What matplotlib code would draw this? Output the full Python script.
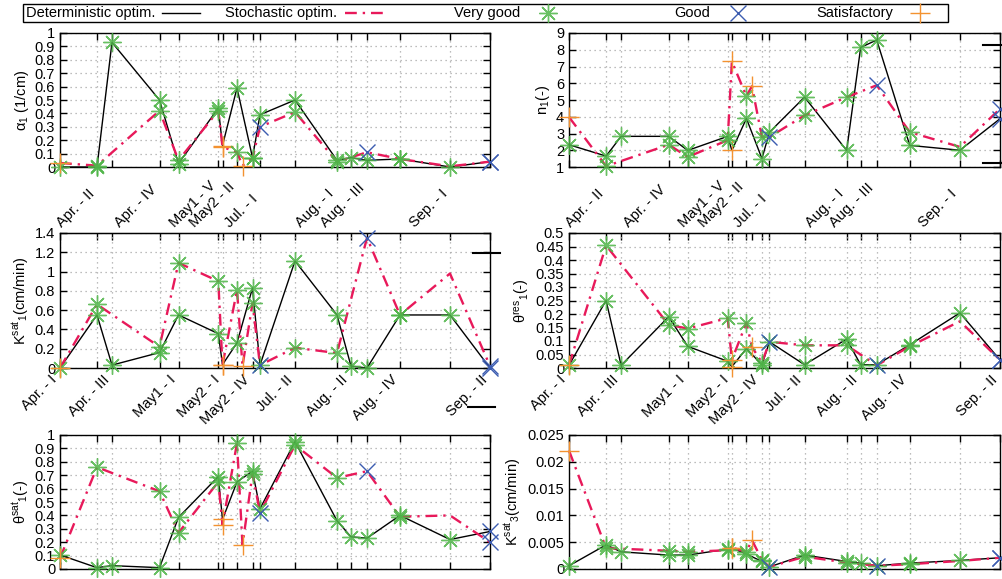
import matplotlib
matplotlib.use('Agg')
import matplotlib.pyplot as plt
from matplotlib.lines import Line2D
from matplotlib.patches import Rectangle
from matplotlib.ticker import FuncFormatter, MultipleLocator

plt.rcParams['font.family'] = ['Liberation Sans', 'DejaVu Sans']
plt.rcParams['mathtext.fontset'] = 'custom'
plt.rcParams['mathtext.rm'] = 'Liberation Sans'
plt.rcParams['mathtext.it'] = 'Liberation Sans:italic'
plt.rcParams['mathtext.bf'] = 'Liberation Sans:bold'
plt.rcParams['font.size'] = 10

# ---------------- data ----------------
event_labels = ["Apr. - I", "Apr. - II", "Apr. - III", "Apr. - IV", "May1 - I", "May1 - V",
                "May2 - I", "May2 - II", "May2 - III", "May2 - IV", "Jul. - I", "Jul. - II",
                "Aug. - I", "Aug. - II", "Aug. - III", "Aug. - IV", "Sep. - I", "Sep. - II"]
event_pos = [0, 37, 52, 99.5, 118.5, 158.3, 162.5, 177, 182.5, 192.5, 200, 235,
             277, 291, 307, 340, 390, 430]
bottom_label_idx = [0, 2, 4, 6, 9, 11, 13, 15, 17]
top_label_idx = [1, 3, 5, 7, 10, 12, 14, 16]

# quality of each event: V = very good, G = good, S = satisfactory, '' = none
det_quality = ['V', 'V', 'V', 'V', 'V', 'V', 'S', 'V', '', 'V', 'V', 'V', 'V', 'V', 'V', 'V', 'V', 'G']
sto_quality = ['S', 'V', '', 'V', 'V', 'V', 'S', 'V', 'S', 'V', 'G', 'V', 'V', '', 'G', 'V', '', 'G']

alpha1_det = [0.0, 0.0, 0.93, 0.50, 0.025, 0.44, 0.16, 0.59, None, 0.07, 0.39, 0.50, 0.05, 0.07, 0.05, 0.06, 0.0, 0.04]
alpha1_sto = [0.03, 0.01, None, 0.42, 0.05, 0.42, 0.15, 0.11, 0.01, 0.065, 0.30, 0.41, 0.04, None, 0.11, 0.06, 0.005, 0.04]

n1_det = [2.33, 1.65, 2.83, 2.83, 1.99, 2.83, 1.99, 3.9, None, 1.5, 3.08, 5.17, 1.99, 8.14, 8.58, 2.29, 2.0, 3.88]
n1_sto = [3.98, 1.05, None, 2.33, 1.6, 2.6, 7.3, 5.23, 5.82, 2.79, 2.79, 4.08, 5.17, None, 5.88, 3.08, 2.2, 4.47]

k1sat_det = [0.0, 0.55, 0.03, 0.16, 0.55, 0.356, 0.035, 0.26, None, 0.83, 0.03, 1.11, 0.55, 0.02, 0.0, 0.55, 0.55, 0.0]
k1sat_sto = [0.0, 0.66, None, 0.22, 1.09, 0.90, 0.03, 0.81, 0.02, 0.67, 0.03, 0.21, 0.155, None, 1.35, 0.55, 0.98, 0.02]

thres_det = [0.01, 0.25, 0.01, 0.19, 0.08, 0.025, 0.005, 0.072, None, 0.012, 0.097, 0.012, 0.107, 0.012, 0.012, 0.086, 0.204, 0.03]
thres_sto = [0.01, 0.454, None, 0.16, 0.146, 0.185, 0.03, 0.168, 0.078, 0.02, 0.097, 0.084, 0.084, None, 0.01, 0.08, 0.173, 0.03]

thsat_det = [0.105, 0.01, 0.025, 0.01, 0.385, 0.69, 0.37, 0.65, None, 0.73, 0.45, 0.95, 0.36, 0.24, 0.23, 0.40, 0.22, 0.28]
thsat_sto = [0.08, 0.76, None, 0.58, 0.27, 0.65, 0.33, 0.94, 0.18, 0.71, 0.42, 0.925, 0.68, None, 0.73, 0.39, 0.40, 0.20]

k3sat_det = [0.0006, 0.0045, 0.0032, 0.0026, 0.0026, 0.0037, 0.0039, 0.0028, None, 0.0014, 0.0004, 0.0026,
             0.0014, 0.0011, 0.0006, 0.0011, 0.0016, 0.0021]
k3sat_sto = [0.0221, 0.0039, None, 0.0034, 0.0032, 0.0035, 0.0040, 0.0032, 0.0054, 0.0017, 0.0004, 0.0023,
             0.0012, None, 0.0006, 0.0009, 0.0015, 0.0021]

legend_labels = ["Deterministic optim.", "Stochastic optim.", "Very good", "Good", "Satisfactory"]

# ---------------- styles ----------------
C_DET = 'black'
C_STO = '#e8195a'
C_V = '#4fb548'
C_G = '#3c5cb0'
C_S = '#f39230'
STO_LS = (0, (5, 2.5, 1, 2.5))
MARK = {
    'V': dict(marker=(8, 2, 0), color=C_V, ms=13, mew=1.0, alpha=0.85),
    'G': dict(marker='x', color=C_G, ms=11, mew=1.0),
    'S': dict(marker='+', color=C_S, ms=14, mew=1.0),
}

W, H = 1002, 579
fig = plt.figure(figsize=(W / 100, H / 100), dpi=100)


def px_axes(left, top, right, bottom):
    return fig.add_axes([left / W, 1 - bottom / H, (right - left) / W, (bottom - top) / H])


fmt = FuncFormatter(lambda v, p: '%g' % round(v, 6))


def draw_panel(ax, det, sto, ylim, ystep, ylabel, middle):
    xs_d = [x for x, v in zip(event_pos, det) if v is not None]
    ys_d = [v for v in det if v is not None]
    xs_s = [x for x, v in zip(event_pos, sto) if v is not None]
    ys_s = [v for v in sto if v is not None]
    ax.plot(xs_d, ys_d, color=C_DET, lw=1.0, zorder=3, clip_on=False)
    ax.plot(xs_s, ys_s, color=C_STO, lw=1.7, ls=STO_LS, zorder=3, clip_on=False)
    for vals, quals in ((det, det_quality), (sto, sto_quality)):
        for x, v, q in zip(event_pos, vals, quals):
            if v is None or q == '':
                continue
            ax.plot([x], [v], ls='none', zorder=4, clip_on=False, **MARK[q])
    ax.set_xlim(event_pos[0], event_pos[-1])
    ax.set_ylim(*ylim)
    ax.yaxis.set_major_locator(MultipleLocator(ystep))
    ax.yaxis.set_major_formatter(fmt)
    ax.set_ylabel(ylabel, fontsize=10.5, labelpad=3)
    ax.tick_params(axis='both', direction='in', length=5, width=1, top=True, right=True,
                   labelsize=10.5)
    ax.tick_params(axis='x', labelbottom=False, labeltop=False)
    grid_idx = [i for i in range(len(event_pos)) if event_labels[i] != "May2 - III"]
    ax.set_xticks([event_pos[i] for i in grid_idx])
    ax.grid(True, color='#a8a8a8', ls=(0, (1, 3)), lw=0.9)
    for sp in ax.spines.values():
        sp.set_linewidth(1.0)
    if middle:
        ax.tick_params(axis='x', labelbottom=True, top=False)
        ax.set_xticklabels([event_labels[i] if i in bottom_label_idx else '' for i in grid_idx],
                           rotation=45, ha='right', rotation_mode='default', fontsize=10.5)
        sec = ax.secondary_xaxis('top')
        top_idx = [i for i in range(len(event_pos))]
        sec.set_xticks([event_pos[i] for i in top_idx])
        sec.set_xticklabels([event_labels[i] if i in top_label_idx else '' for i in top_idx],
                            rotation=45, ha='right', va='bottom', fontsize=10.5)
        sec.tick_params(direction='in', length=5, width=1, pad=2)
        for lab in sec.get_xticklabels():
            lab.set_rotation_mode('default')
    ax.set_axisbelow(True)


ax_tl = px_axes(60, 33, 490, 167)
ax_tr = px_axes(569, 33, 1000, 167)
ax_ml = px_axes(60, 233, 490, 368)
ax_mr = px_axes(569, 233, 1000, 368)
ax_bl = px_axes(60, 435, 490, 569)
ax_br = px_axes(569, 435, 1000, 569)

draw_panel(ax_tl, alpha1_det, alpha1_sto, (0, 1), 0.1, "α$_1$ (1/cm)", False)
draw_panel(ax_tr, n1_det, n1_sto, (1, 9), 1, "n$_1$(-)", False)
draw_panel(ax_ml, k1sat_det, k1sat_sto, (0, 1.4), 0.2, "K$^{\\rm sat}$$_1$(cm/min)", True)
draw_panel(ax_mr, thres_det, thres_sto, (0, 0.5), 0.05, "θ$^{\\rm res}$$_1$(-)", True)
draw_panel(ax_bl, thsat_det, thsat_sto, (0, 1), 0.1, "θ$^{\\rm sat}$$_1$(-)", False)
draw_panel(ax_br, k3sat_det, k3sat_sto, (0, 0.025), 0.005, "K$^{\\rm sat}$$_3$(cm/min)", False)

# stray short black strokes present in the original figure
for (x0, x1, y) in [(983, 1002, 45), (983, 1002, 163), (473, 500, 253), (468, 495, 407)]:
    fig.add_artist(Line2D([x0 / W, x1 / W], [1 - y / H, 1 - y / H], transform=fig.transFigure,
                          color='black', lw=1.5))

# legend (gnuplot-style: text right-justified, sample to its right)
fig.add_artist(Rectangle((23 / W, 1 - 22 / H), 925 / W, 18 / H, transform=fig.transFigure,
                         facecolor='white', edgecolor='black', lw=1.0, zorder=5))
ly = 1 - 13 / H
text_right = [155, 337, 520, 710, 893]
sample_x = [(162, 200), (345, 385), 548, 738, 920]
for k, (lab, tx, sx) in enumerate(zip(legend_labels, text_right, sample_x)):
    fig.text(tx / W, ly, lab, ha='right', va='center', fontsize=10.5, zorder=6)
    if k == 0:
        fig.add_artist(Line2D([sx[0] / W, sx[1] / W], [ly, ly], transform=fig.transFigure,
                              color=C_DET, lw=1.0, zorder=6))
    elif k == 1:
        fig.add_artist(Line2D([sx[0] / W, sx[1] / W], [ly, ly], transform=fig.transFigure,
                              color=C_STO, lw=1.7, ls=STO_LS, zorder=6))
    else:
        q = ['V', 'G', 'S'][k - 2]
        fig.add_artist(Line2D([sx / W], [ly], transform=fig.transFigure, ls='none',
                              zorder=6, **MARK[q]))

fig.savefig('out.png', dpi=100)
